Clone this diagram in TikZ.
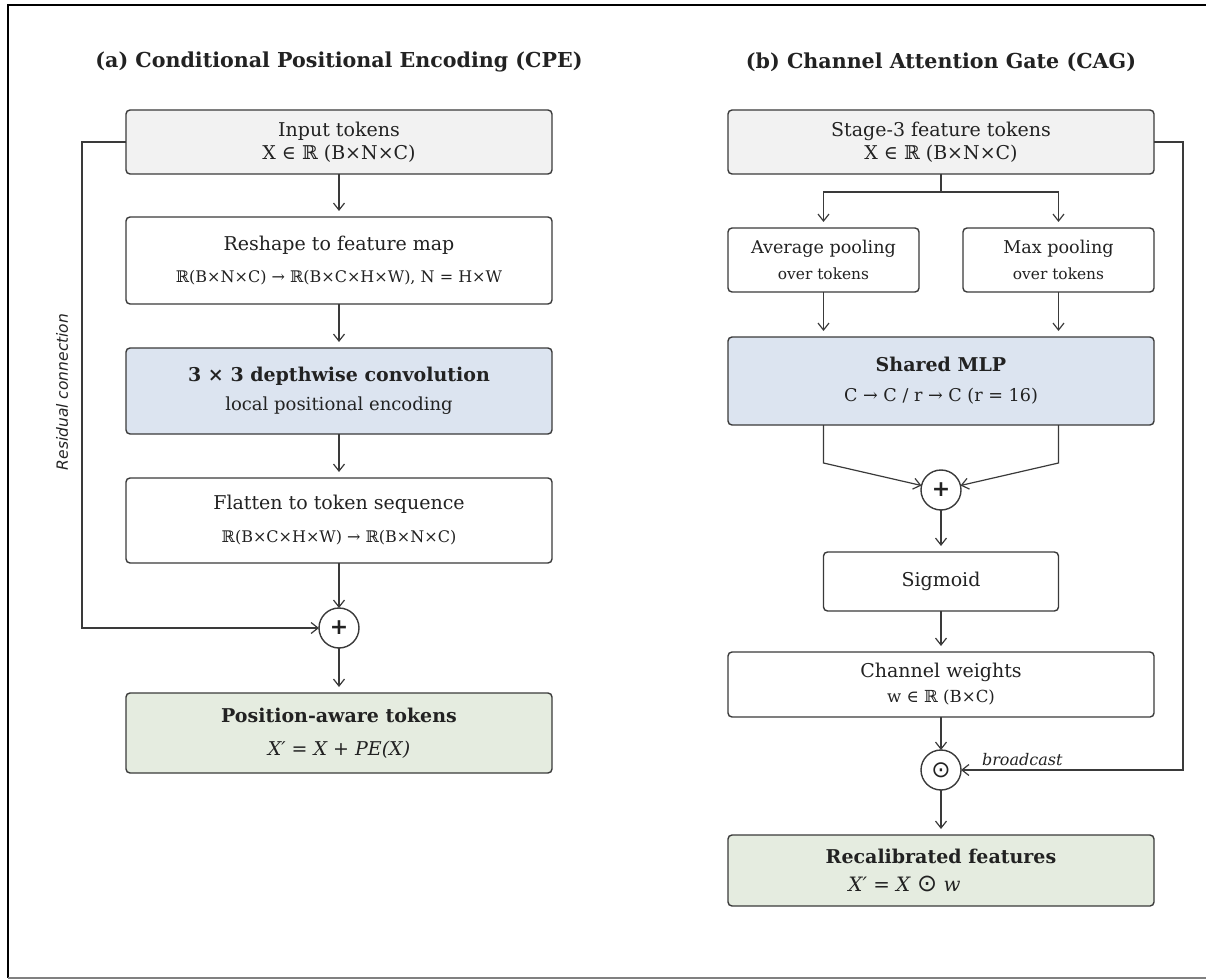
\documentclass[tikz,border=0pt]{standalone}
\usepackage{fontspec}
\setmainfont{DejaVu Serif}
\setsansfont{DejaVu Sans}
\newfontfamily\symfont{DejaVu Sans}
\usetikzlibrary{arrows.meta}
\definecolor{CPEGray}{HTML}{F2F2F2}
\definecolor{CPEBlue}{HTML}{DCE4F0}
\definecolor{CPEGreen}{HTML}{E5ECE0}
\definecolor{CPELine}{HTML}{3A3A3A}
\definecolor{CPEText}{HTML}{222222}

\begin{document}
\begin{tikzpicture}[x=0.5pt, y=-0.5pt,
  box/.style={rectangle, rounded corners=2pt, draw=CPELine, line width=0.7pt,
              fill=white, minimum width=213pt, inner sep=0pt, outer sep=0pt,
              align=center, text=CPEText, font=\fontsize{9.5}{11.5}\selectfont},
  pool/.style={box, minimum width=95.5pt, minimum height=32pt},
  op/.style={circle, draw=CPELine, line width=0.7pt, fill=white, minimum size=20pt,
             inner sep=0pt, outer sep=0pt, text=CPEText},
  ttl/.style={font=\fontsize{10.3}{12}\selectfont\bfseries, text=CPEText},
  lbl/.style={font=\fontsize{8}{9}\selectfont\itshape, text=CPEText},
  arr/.style={-{Straight Barb[length=3.5pt, width=5.5pt]}, line width=0.6pt,
              draw=CPELine, shorten >=3pt},
  link/.style={line width=0.6pt, draw=CPELine}
]
  \useasboundingbox (0,0) rectangle (1206,979);
  \draw[line width=1.1pt] (1206,5) -- (8,5) -- (8,978);
  \draw[line width=0.8pt, gray] (8,978) -- (1206,978);

  \node[ttl] (ta) at (339,62) {(a) Conditional Positional Encoding (CPE)};
  \node[ttl] (tb) at (941,62) {(b) Channel Attention Gate (CAG)};

  \node[box, fill=CPEGray, minimum height=32pt] (in) at (339,142)
    {Input tokens\\[0pt]X ∈ ℝ (B×N×C)};
  \node[box, minimum height=43.5pt] (rs) at (339,260.5)
    {Reshape to feature map\\[4.5pt]{\fontsize{8}{10}\selectfont ℝ(B×N×C) → ℝ(B×C×H×W), N = H×W}};
  \node[box, fill=CPEBlue, minimum height=43pt] (cv) at (339,391)
    {{\bfseries 3 × 3 depthwise convolution}\\[3pt]{\fontsize{9}{11}\selectfont local positional encoding}};
  \node[box, minimum height=42.5pt] (fl) at (339,520.5)
    {Flatten to token sequence\\[5pt]{\fontsize{8}{10}\selectfont ℝ(B×C×H×W) → ℝ(B×N×C)}};
  \node[op] (pa) at (339,628) {\fontsize{11}{11}\symfont\bfseries +};
  \node[box, fill=CPEGreen, minimum height=40pt] (out) at (339,733)
    {{\bfseries Position-aware tokens}\\[5pt]\textit{X′ = X + PE(X)}};

  \node[box, fill=CPEGray, minimum height=32pt] (st) at (941,142)
    {Stage-3 feature tokens\\[0pt]X ∈ ℝ (B×N×C)};
  \node[pool] (avg) at (823.5,260)
    {{\fontsize{8.8}{10}\selectfont Average pooling}\\[1.5pt]{\fontsize{7.7}{9}\selectfont over tokens}};
  \node[pool] (mx) at (1058.5,260)
    {{\fontsize{8.8}{10}\selectfont Max pooling}\\[1.5pt]{\fontsize{7.7}{9}\selectfont over tokens}};
  \node[box, fill=CPEBlue, minimum height=44pt] (mlp) at (941,381)
    {{\bfseries Shared MLP}\\[3.5pt]{\fontsize{8.8}{10}\selectfont C → C / r → C (r = 16)}};
  \node[op] (pb) at (941,490) {\fontsize{11}{11}\symfont\bfseries +};
  \node[box, minimum width=117.5pt, minimum height=29.5pt] (sg) at (941,581.5) {Sigmoid};
  \node[box, minimum height=32.5pt] (cw) at (941,684.5)
    {Channel weights\\[1pt]{\fontsize{8.3}{10}\selectfont w ∈ ℝ (B×C)}};
  \node[op] (od) at (941,770) {\fontsize{11.5}{11.5}\symfont ⊙};
  \node[box, fill=CPEGreen, minimum height=35.5pt] (rc) at (941,870.5)
    {{\bfseries Recalibrated features}\\[2.5pt]{\fontsize{9.9}{11}\selectfont\textit{X′ = X} {\fontsize{12}{12}\symfont ⊙} \textit{w}}\hspace*{36.5pt}};

  \node[lbl, font=\fontsize{7.75}{9}\selectfont\sffamily\itshape, rotate=90] (res) at (62,392)
    {Residual connection};
  \node[lbl, anchor=base west] (bc) at (975,765) {broadcast};

  \draw[arr] (in) -- (rs);
  \draw[arr] (rs) -- (cv);
  \draw[arr] (cv) -- (fl);
  \draw[arr, shorten >=0pt] (fl) -- (pa);
  \draw[arr, shorten >=0pt] (in.west) -- ++(-44,0) |- (pa.west);
  \draw[arr] (pa) -- (out);

  \draw[link] (st.south) -- ++(0,18) coordinate (sp);
  \draw[arr] (sp) -| (avg.north);
  \draw[arr] (sp) -| (mx.north);
  \draw[arr] (avg) -- (avg |- mlp.north);
  \draw[arr] (mx) -- (mx |- mlp.north);
  \draw[arr, shorten >=0pt] (avg |- mlp.south) -- ++(0,38) -- (pb);
  \draw[arr, shorten >=0pt] (mx |- mlp.south) -- ++(0,38) -- (pb);
  \draw[arr] (pb) -- (sg);
  \draw[arr] (sg) -- (cw);
  \draw[arr, shorten >=0pt] (cw) -- (od);
  \draw[arr, shorten >=0pt] (st.east) -- ++(29,0) |- (od.east);
  \draw[arr] (od) -- (rc);
\end{tikzpicture}
\end{document}
